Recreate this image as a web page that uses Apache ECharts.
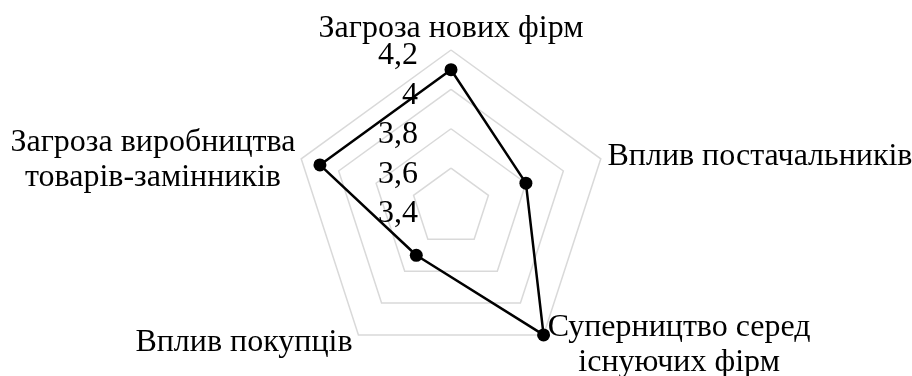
<!DOCTYPE html>
<html>
<head>
<meta charset="utf-8">
<script src="https://cdn.jsdelivr.net/npm/echarts@6/dist/echarts.min.js"></script>
<style>
  html, body { margin: 0; padding: 0; background: #fff; }
  #chart { width: 912px; height: 376px; }
</style>
</head>
<body>
<div id="chart"></div>
<script>
// indicators go counter-clockwise from the top in echarts
var indicatorNames = [
  'Загроза нових фірм',
  '{l|Загроза виробництва}\n{l|товарів-замінників}',
  'Вплив покупців',
  '{r|Суперництво серед}\n{r|існуючих фірм}',
  'Вплив постачальників'
];
var values = [4.1, 4.1, 3.7, 4.2, 3.8];
var axisMin = 3.4;
var axisMax = 4.2;
// small per-label nudges so the names sit like in the original
var nameGaps = [4, 5, 10, 12, 7];

var chart = echarts.init(document.getElementById('chart'));

function fmt(v) {
  return String(Math.round(v * 10) / 10).replace('.', ',');
}

var indicators = indicatorNames.map(function (name, i) {
  var ind = {
    name: name, min: axisMin, max: axisMax,
    nameGap: nameGaps[i], nameMoveOverlap: false
  };
  if (i === 0) {
    ind.axisLabel = { show: true };
  }
  if (i === 1) {
    ind.nameTextStyle = { padding: [6, 0, 0, 0] };
  }
  return ind;
});

var option = {
  backgroundColor: '#fff',
  radar: {
    center: [451, 207.5],
    radius: 157.5,
    splitNumber: 4,
    shape: 'polygon',
    indicator: indicators,
    nameGap: 10,
    axisName: {
      color: '#000',
      fontFamily: 'Liberation Serif',
      fontSize: 32,
      lineHeight: 35,
      rich: {
        l: { width: 287, align: 'center', fontSize: 32, fontFamily: 'Liberation Serif', lineHeight: 35, color: '#000' },
        r: { width: 257, align: 'center', fontSize: 32, fontFamily: 'Liberation Serif', lineHeight: 35, color: '#000' }
      }
    },
    axisLine: { show: false },
    axisTick: { show: false },
    splitArea: { show: false },
    splitLine: { lineStyle: { color: '#d9d9d9', width: 1.5 } },
    axisLabel: {
      show: false,
      color: '#000',
      fontFamily: 'Liberation Serif',
      fontSize: 32,
      lineHeight: 12,
      verticalAlign: 'top',
      margin: 33,
      formatter: fmt
    }
  },
  series: [{
    type: 'radar',
    symbol: 'circle',
    symbolSize: 13,
    lineStyle: { color: '#000', width: 2.5 },
    itemStyle: { color: '#000' },
    data: [{ value: values }]
  }]
};

chart.setOption(option);
</script>
</body>
</html>
